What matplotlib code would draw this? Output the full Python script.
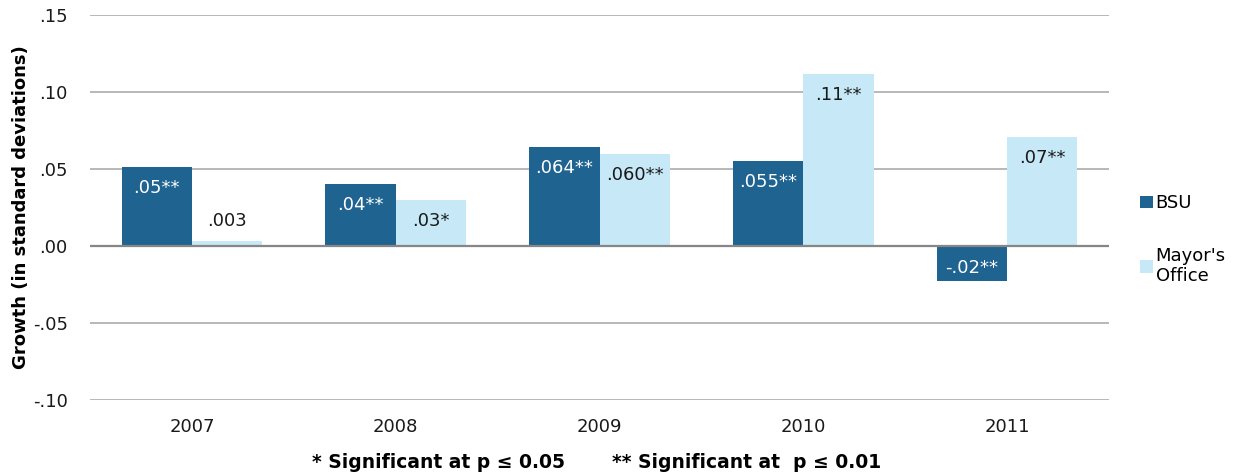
import matplotlib
matplotlib.use("Agg")
import matplotlib.pyplot as plt
import numpy as np

years = ["2007", "2008", "2009", "2010", "2011"]
bsu = [0.051, 0.040, 0.064, 0.055, -0.023]
mayor = [0.003, 0.030, 0.060, 0.112, 0.071]
bsu_labels = [".05**", ".04**", ".064**", ".055**", "-.02**"]
mayor_labels = [".003", ".03*", ".060**", ".11**", ".07**"]
yticks = [-0.10, -0.05, 0.00, 0.05, 0.10, 0.15]
ytick_labels = ["-.10", "-.05", ".00", ".05", ".10", ".15"]

dark = "#1F6391"
light = "#C6E8F7"
txt = "#1a1a1a"
fs = 13

plt.rcParams['font.family'] = ['DejaVu Sans']
fig = plt.figure(figsize=(12.39, 4.74), dpi=100)
ax = fig.add_axes([90/1239, 1 - 400/474, (1109-90)/1239, (400-15)/474])

x = np.arange(len(years))
w = 0.345
b1 = ax.bar(x - w/2, bsu, w, color=dark, zorder=3, label="BSU")
b2 = ax.bar(x + w/2, mayor, w, color=light, zorder=3, label="Mayor's\nOffice")

for i, (v, lab) in enumerate(zip(bsu, bsu_labels)):
    off = -21 if v >= 0 else 13
    ax.annotate(lab, (x[i] - w/2, v), xytext=(0, off), textcoords="offset pixels",
                ha="center", va="center", color="white", fontsize=fs, zorder=4)
for i, (v, lab) in enumerate(zip(mayor, mayor_labels)):
    off = -21 if v > 0.02 else 20
    ax.annotate(lab, (x[i] + w/2, v), xytext=(0, off), textcoords="offset pixels",
                ha="center", va="center", color=txt, fontsize=fs, zorder=4)

ax.set_ylim(-0.10, 0.15)
ax.set_xlim(-0.5, len(years) - 0.5)
ax.set_yticks(yticks)
ax.set_yticklabels(ytick_labels, fontsize=fs, color=txt)
ax.set_xticks(x)
ax.set_xticklabels(years, fontsize=fs, color=txt)
ax.tick_params(axis="x", length=0, pad=13)
ax.tick_params(axis="y", length=0, pad=16)
ax.yaxis.grid(True, color="#ABABAB", linewidth=1.2, zorder=0)
ax.axhline(0, color="#868686", linewidth=1.6, zorder=3.5)
for s in ax.spines.values():
    s.set_visible(False)

ax.set_ylabel("Growth (in standard deviations)", fontsize=13, fontweight="bold")
ax.yaxis.set_label_coords(-60/1019, 0.5)

leg = fig.legend(handles=[b1, b2], loc="upper left", bbox_to_anchor=(1124/1239, 1 - 178/474),
                 frameon=False, fontsize=fs, handlelength=0.7, handleheight=0.7,
                 handletextpad=0.15, labelspacing=1.9)

fig.text(312/1239, 1 - 462/474, "* Significant at p \u2264 0.05",
         ha="left", va="center", fontsize=13.5, fontweight="bold")
fig.text(612/1239, 1 - 462/474, "** Significant at  p \u2264 0.01",
         ha="left", va="center", fontsize=13.5, fontweight="bold")

fig.savefig("out.png", dpi=100)
